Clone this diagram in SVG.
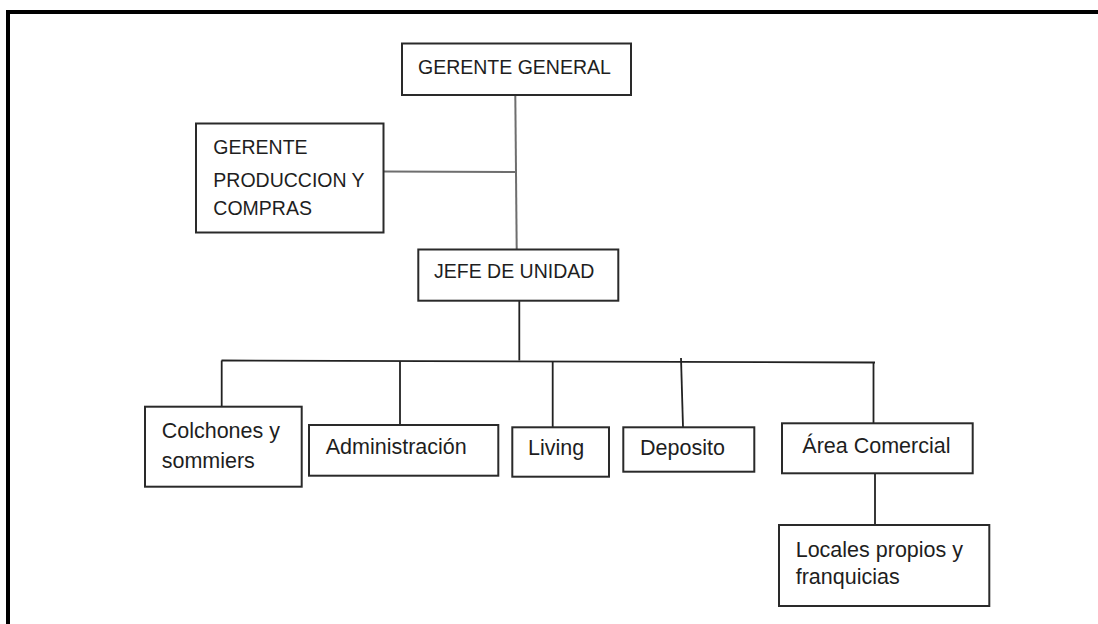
<svg xmlns="http://www.w3.org/2000/svg" width="1098" height="624" viewBox="0 0 1098 624">
<style>
.box{fill:#fff;stroke:#2a2a2a;stroke-width:2}
.t{font-family:"Liberation Sans",Arial,sans-serif;fill:#1e1e1e}
.caps{font-size:19.5px}
.lc{font-size:21.5px}
.c1{stroke:#6e6e6e;stroke-width:2;fill:none}
.c2{stroke:#222;stroke-width:1.8;fill:none}
</style>
<rect x="0" y="0" width="1098" height="624" fill="#fff"/>
<g id="frame">
<line x1="8" y1="12" x2="1098" y2="12" stroke="#000" stroke-width="4"/>
<line x1="8" y1="10" x2="8" y2="624" stroke="#000" stroke-width="4"/>
</g>
<g id="connectors">
<line class="c1" x1="515.3" y1="95" x2="516.7" y2="249"/>
<line class="c1" x1="384" y1="171.5" x2="515.5" y2="172"/>
<line class="c2" x1="519.3" y1="301" x2="519.3" y2="360.5"/>
<line class="c2" x1="221.5" y1="360.5" x2="875" y2="362.5"/>
<line class="c2" x1="221.7" y1="360.5" x2="221.7" y2="407"/>
<line class="c2" x1="400" y1="361" x2="400" y2="425"/>
<line class="c2" x1="552.7" y1="361.5" x2="552.7" y2="427"/>
<line class="c2" x1="681" y1="358" x2="683" y2="427"/>
<line class="c2" x1="873.5" y1="362.5" x2="873.5" y2="423"/>
<line class="c2" x1="875" y1="473" x2="875" y2="525"/>
</g>
<g id="gerente-general">
<rect class="box" x="402" y="43.5" width="229" height="51.5"/>
<text class="t caps" x="418" y="74.3">GERENTE GENERAL</text>
</g>
<g id="gerente-produccion">
<rect class="box" x="196" y="123.5" width="187.5" height="109"/>
<text class="t caps" x="213.3" y="154.3">GERENTE</text>
<text class="t caps" x="213.3" y="186.5">PRODUCCION Y</text>
<text class="t caps" x="213.3" y="215">COMPRAS</text>
</g>
<g id="jefe-unidad">
<rect class="box" x="418.3" y="249.5" width="200" height="51.2"/>
<text class="t caps" x="434" y="278.3">JEFE DE UNIDAD</text>
</g>
<g id="colchones">
<rect class="box" x="145" y="406.7" width="156.7" height="80"/>
<text class="t lc" x="161.7" y="438">Colchones y</text>
<text class="t lc" x="161.7" y="467.7">sommiers</text>
</g>
<g id="administracion">
<rect class="box" x="309" y="425" width="189.3" height="50.7"/>
<text class="t lc" x="325.7" y="454.3">Administración</text>
</g>
<g id="living">
<rect class="box" x="512.3" y="427.3" width="96.7" height="49.4"/>
<text class="t lc" x="528" y="455">Living</text>
</g>
<g id="deposito">
<rect class="box" x="623.3" y="427.3" width="131" height="44.4"/>
<text class="t lc" x="640" y="455">Deposito</text>
</g>
<g id="area-comercial">
<rect class="box" x="782" y="423.3" width="190.7" height="50"/>
<text class="t lc" x="802.3" y="452.7">Área Comercial</text>
</g>
<g id="locales">
<rect class="box" x="779" y="525" width="210.3" height="81"/>
<text class="t lc" x="795.7" y="556.7">Locales propios y</text>
<text class="t lc" x="795.7" y="584">franquicias</text>
</g>
</svg>
